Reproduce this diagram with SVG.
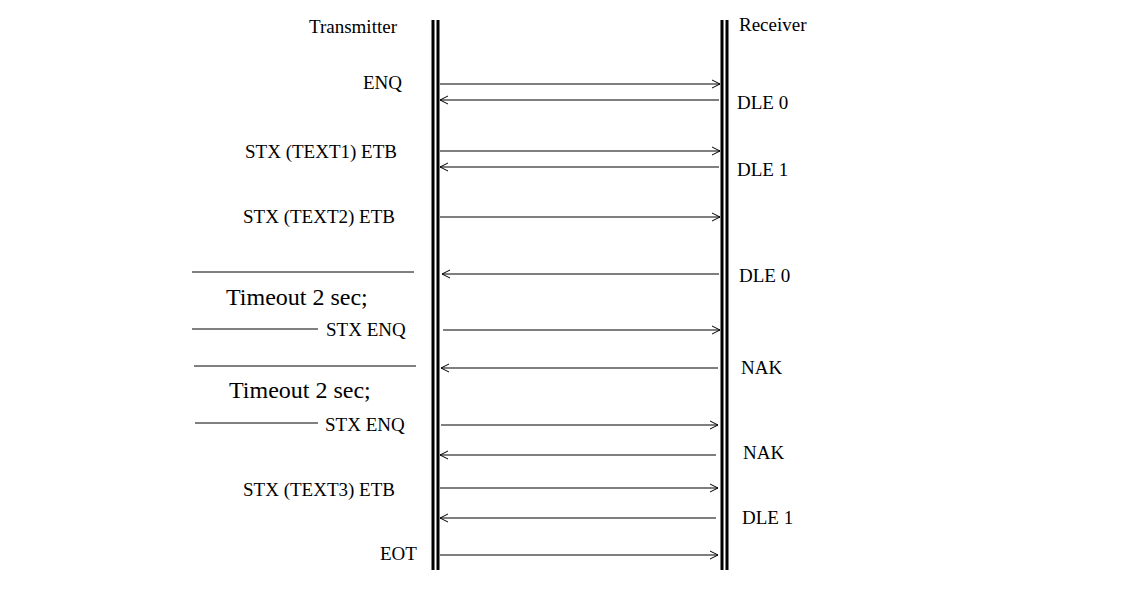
<svg xmlns="http://www.w3.org/2000/svg" width="1132" height="597" viewBox="0 0 1132 597">
<defs>
<marker id="a" markerWidth="10" markerHeight="10" refX="9" refY="5" orient="auto" markerUnits="userSpaceOnUse"><path d="M1,1 L9,5 L1,9" fill="none" stroke="#000" stroke-width="1"/></marker>
</defs>
<style>
text{font-family:"Liberation Serif",serif;font-size:19px;fill:#000}
.b{font-size:24px}
.m{stroke:#000;stroke-width:1.2;marker-end:url(#a)}
.l{stroke:#000;stroke-width:3}
.s{stroke:#000;stroke-width:1}
</style>
<rect width="1132" height="597" fill="#fff"/>
<g id="transmitter"><line class="l" x1="433" y1="20" x2="433" y2="570"/><line class="l" x1="438" y1="20" x2="438" y2="570"/><text x="309" y="33">Transmitter</text></g>
<g id="receiver"><line class="l" x1="722" y1="20" x2="722" y2="570"/><line class="l" x1="727" y1="20" x2="727" y2="570"/><text x="739" y="31">Receiver</text></g>
<g id="labels">
<text x="363" y="89">ENQ</text>
<text x="737" y="109">DLE 0</text>
<text x="245" y="158">STX (TEXT1) ETB</text>
<text x="737" y="176">DLE 1</text>
<text x="243" y="223">STX (TEXT2) ETB</text>
<text x="739" y="282">DLE 0</text>
<text class="b" x="226" y="305">Timeout 2 sec;</text>
<text x="326" y="336">STX ENQ</text>
<text x="741" y="374">NAK</text>
<text class="b" x="229" y="398">Timeout 2 sec;</text>
<text x="325" y="431">STX ENQ</text>
<text x="743" y="459">NAK</text>
<text x="243" y="496">STX (TEXT3) ETB</text>
<text x="742" y="524">DLE 1</text>
<text x="380" y="560">EOT</text>
</g>
<g id="connectors">
<line class="m" x1="440" y1="84" x2="720" y2="84"/>
<line class="m" x1="719" y1="100" x2="440" y2="100"/>
<line class="m" x1="440" y1="151" x2="720" y2="151"/>
<line class="m" x1="719" y1="167" x2="440" y2="167"/>
<line class="m" x1="440" y1="217" x2="720" y2="217"/>
<line class="m" x1="719" y1="274" x2="442" y2="274"/>
<line class="m" x1="443" y1="330" x2="720" y2="330"/>
<line class="m" x1="718" y1="368" x2="441" y2="368"/>
<line class="m" x1="441" y1="425" x2="718" y2="425"/>
<line class="m" x1="716" y1="455" x2="440" y2="455"/>
<line class="m" x1="440" y1="488" x2="718" y2="488"/>
<line class="m" x1="716" y1="518" x2="440" y2="518"/>
<line class="m" x1="440" y1="555" x2="718" y2="555"/>
<line class="s" x1="192" y1="272" x2="414" y2="272"/>
<line class="s" x1="192" y1="329" x2="318" y2="329"/>
<line class="s" x1="194" y1="366" x2="416" y2="366"/>
<line class="s" x1="195" y1="423" x2="318" y2="423"/>
</g>
</svg>
